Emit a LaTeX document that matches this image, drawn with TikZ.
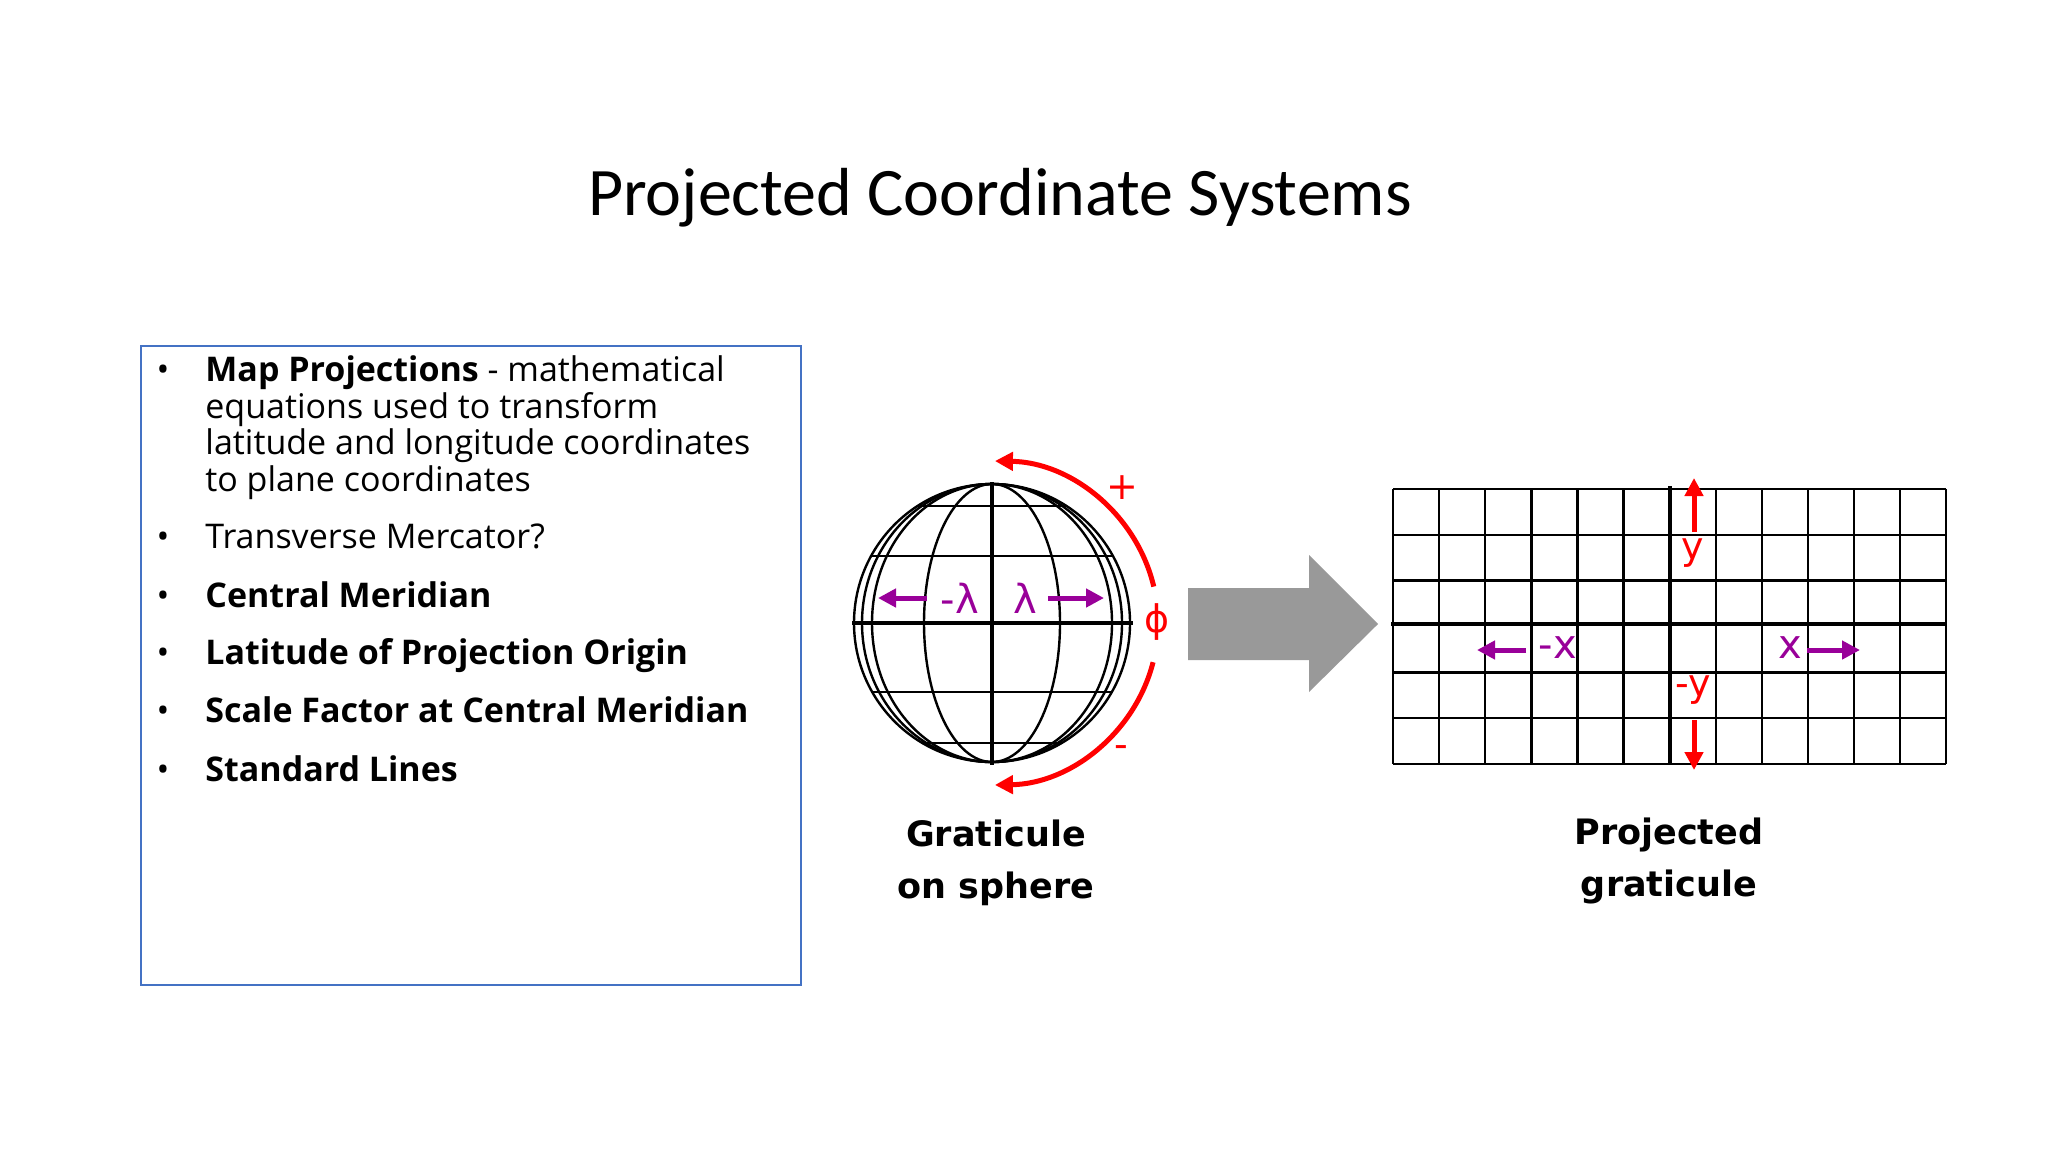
\documentclass[tikz,border=0pt]{standalone}
\usepackage{fontspec}
\setmainfont{Open Sans}
\newfontfamily\titlefont{Carlito}
\newfontfamily\dvs{DejaVu Sans}
\usetikzlibrary{arrows.meta}
\definecolor{boxblue}{HTML}{4472C4}
\definecolor{purp}{HTML}{990099}
\definecolor{arrgray}{HTML}{999999}
\tikzset{
  bul/.style={anchor=base west,font=\fontsize{17}{20}\selectfont,inner sep=0pt},
  dot/.style={anchor=base,font=\fontsize{17}{20}\selectfont,inner sep=0pt},
  thin/.style={line width=1.2pt},
  thick2/.style={line width=2.4pt},
  parr/.style={purp,line width=2.5pt,-{Triangle[length=9pt,width=9pt]}},
  rarr/.style={red,line width=2.5pt,-{Triangle[length=9pt,width=9pt]}},
  plab/.style={purp,font=\dvs\fontsize{20}{20}\selectfont,inner sep=0pt},
  rlab/.style={red,font=\dvs\fontsize{19}{19}\selectfont,inner sep=0pt},
  caption/.style={font=\dvs\bfseries\fontsize{17.5}{26}\selectfont,align=center,inner sep=0pt}
}
\begin{document}
\begin{tikzpicture}[x=0.5pt,y=-0.5pt]
\useasboundingbox (0,0) rectangle (2048,1152);
\fill[white] (0,0) rectangle (2048,1152);
\node[font=\titlefont\fontsize{34}{40}\selectfont] (title) at (1000,198) {Projected Coordinate Systems};
% text box
\draw[boxblue,line width=1pt] (141,346) rectangle (801,985);
\foreach \y in {381,548,607,664,722,781} \node[dot] at (163,\y) {•};
\node[bul] (b1a) at (205,381) {\textbf{Map Projections} - mathematical};
\node[bul] (b1b) at (205,418) {equations used to transform};
\node[bul] (b1c) at (205,454) {latitude and longitude coordinates};
\node[bul] (b1d) at (205,491) {to plane coordinates};
\node[bul] (b2) at (205,548) {Transverse Mercator?};
\node[bul] (b3) at (205,607) {\textbf{Central Meridian}};
\node[bul] (b4) at (205,664) {\textbf{Latitude of Projection Origin}};
\node[bul] (b5) at (205,722) {\textbf{Scale Factor at Central Meridian}};
\node[bul] (b6) at (205,781) {\textbf{Standard Lines}};
% globe
\coordinate (gc) at (992,623);
\begin{scope}
\clip (gc) ellipse [x radius=138,y radius=139];
\foreach \y in {506,556,692,743} \draw[thin] (800,\y) -- (1200,\y);
\end{scope}
\draw[thin] (gc) ellipse [x radius=138,y radius=139];
\draw[thin] (gc) ellipse [x radius=130,y radius=139];
\draw[thin] (gc) ellipse [x radius=120,y radius=139];
\draw[thin] (gc) ellipse [x radius=68,y radius=139];
\draw[thick2] (852,623) -- (1133,623);
\draw[thick2] (992,482) -- (992,765);
\node[plab] (ml) at (960,598) {-λ};
\node[plab] (lp) at (1025,598) {λ};
\coordinate (mla) at (927,598); \coordinate (mlb) at (878,598);
\coordinate (lpa) at (1048,598); \coordinate (lpb) at (1104,598);
\draw[parr] (mla) -- (mlb);
\draw[parr] (lpa) -- (lpb);
% red arcs
\draw[rarr] (gc) ++(-13:166 and 162) arc[start angle=-13,end angle=-89,x radius=166,y radius=162];
\draw[rarr] (gc) ++(14:166 and 162) arc[start angle=14,end angle=89,x radius=166,y radius=162];
\node[rlab] (phi) at (1157,622) {ϕ};
\node[rlab] (plus) at (1122,488) {+};
\node[rlab] (minus) at (1121,752) {-};
% gray arrow
\fill[arrgray] (1188,588) -- (1309,588) -- (1309,555) -- (1378,624) -- (1309,692) -- (1309,660) -- (1188,660) -- cycle;
% grid
\foreach \i in {0,...,12} \draw[thin] ({1393+\i*46.1},489) -- ({1393+\i*46.1},764);
\foreach \j in {0,1,2,4,5,6} \draw[thin] (1393,{489+\j*45.83}) -- (1946,{489+\j*45.83});
\draw[thick2] (1391,624) -- (1946,624);
\draw[thick2] (1670,486) -- (1670,764);
\node[rlab] (yy) at (1693,553) {y};
\node[rlab] (my) at (1693,690) {-y};
\coordinate (ya) at (1694,532); \coordinate (yb) at (1694,478);
\coordinate (mya) at (1694,720); \coordinate (myb) at (1694,770);
\draw[rarr] (ya) -- (yb);
\draw[rarr] (mya) -- (myb);
\node[plab] (mx) at (1558,648) {-x};
\node[plab] (xx) at (1790,648) {x};
\coordinate (mxa) at (1526,650); \coordinate (mxb) at (1477,650);
\coordinate (xa) at (1807,650); \coordinate (xb) at (1860,650);
\draw[parr] (mxa) -- (mxb);
\draw[parr] (xa) -- (xb);
% captions
\node[caption] (c1) at (996,863) {Graticule\\on sphere};
\node[caption] (c2) at (1669,861) {Projected\\graticule};
\end{tikzpicture}
\end{document}
